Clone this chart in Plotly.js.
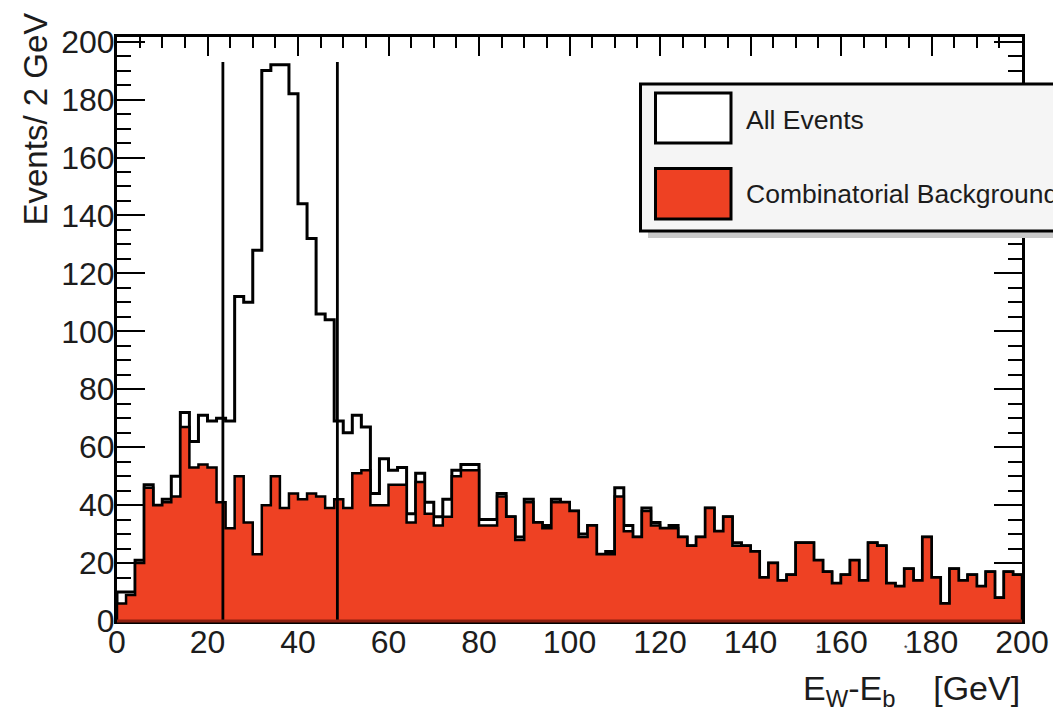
<!DOCTYPE html>
<html>
<head>
<meta charset="utf-8">
<script src="https://cdn.plot.ly/plotly-3.0.1.min.js"></script>
<style>
  html, body { margin: 0; padding: 0; background: #ffffff; }
  #chart { width: 1053px; height: 711px; }
</style>
</head>
<body>
<div id="chart"></div>
<script>
// Binning: 100 bins of 2 GeV covering 0-200 GeV
const binLow = 0;
const binWidth = 2;

// Entries per bin, all selected events
const allEvents = [
  10, 10, 21, 47, 40, 42, 50, 72, 62, 71,
  69, 70, 69, 112, 110, 128, 190, 192, 192, 182,
  144, 132, 106, 104, 69, 65, 71, 67, 44, 56,
  52, 53, 37, 51, 41, 36, 42, 52, 54, 54,
  35, 35, 44, 36, 29, 42, 34, 33, 42, 41,
  38, 30, 33, 23, 24, 46, 33, 29, 39, 34,
  32, 33, 29, 26, 29, 39, 31, 36, 27, 26,
  24, 15, 20, 14, 16, 27, 27, 21, 17, 13,
  16, 21, 14, 27, 26, 13, 12, 18, 14, 29,
  15, 6, 18, 14, 16, 12, 17, 8, 17, 16
];

// Entries per bin, combinatorial background
const combBackground = [
  6, 9, 20, 46, 40, 41, 43, 67, 53, 54,
  53, 41, 32, 50, 34, 23, 40, 50, 39, 44,
  42, 44, 43, 39, 42, 39, 51, 52, 40, 40,
  47, 47, 34, 48, 37, 33, 36, 50, 52, 52,
  33, 33, 43, 36, 28, 41, 34, 32, 41, 41,
  38, 29, 33, 23, 23, 43, 31, 29, 38, 33,
  32, 32, 29, 26, 29, 39, 31, 36, 26, 26,
  24, 15, 20, 14, 16, 27, 27, 21, 17, 13,
  16, 21, 14, 27, 26, 13, 12, 18, 14, 29,
  15, 6, 18, 14, 16, 12, 17, 8, 17, 16
];

// Selection window on E*_W - E*_b [GeV] and the height of its marker lines
const cutEdges = [23.4, 48.7];
const cutLineTop = 193;

const legendLabels = ['All Events', 'Combinatorial Background'];
const xTitle = 'E<sub>W</sub>-E<sub>b</sub>\u00a0\u00a0\u00a0\u00a0[GeV]';
const yTitle = 'Events/ 2 GeV';

const FILL_RED = '#ee4123';
const TEXT = '#1c1c1c';
const FONT = 'Liberation Sans, Arial, Helvetica, sans-serif';

// Turn bin contents into a closed step outline (left edge up, tops, right edge down)
function stepOutline(counts) {
  const xs = [binLow], ys = [0];
  counts.forEach((c, i) => { xs.push(binLow + i * binWidth); ys.push(c); });
  const xEnd = binLow + counts.length * binWidth;
  xs.push(xEnd); ys.push(counts[counts.length - 1]);
  xs.push(xEnd); ys.push(0);
  return { xs, ys };
}

const allStep = stepOutline(allEvents);
const bgStep = stepOutline(combBackground);

const traces = [
  {
    type: 'scatter', mode: 'lines', name: legendLabels[0],
    x: allStep.xs, y: allStep.ys,
    line: { shape: 'hv', color: '#000', width: 3 },
    hoverinfo: 'skip'
  },
  {
    type: 'scatter', mode: 'lines', name: legendLabels[1],
    x: bgStep.xs, y: bgStep.ys,
    line: { shape: 'hv', color: '#000', width: 2.5 },
    fill: 'tozeroy', fillcolor: FILL_RED,
    hoverinfo: 'skip'
  }
];
cutEdges.forEach(edge => {
  traces.push({
    type: 'scatter', mode: 'lines', showlegend: false,
    x: [edge, edge], y: [0, cutLineTop],
    line: { color: '#000', width: 2.8 },
    hoverinfo: 'skip'
  });
});

// Frame geometry in pixels, used to place the hand-drawn legend and titles
const M = { l: 117, r: 31, t: 37, b: 90 };
const W = 1053, H = 711;
const plotW = W - M.l - M.r, plotH = H - M.t - M.b;
const px2x = px => (px - M.l) / plotW;
const px2y = py => (H - M.b - py) / plotH;

const axisCommon = {
  showgrid: false, zeroline: false,
  showline: true, linecolor: '#000', linewidth: 3, mirror: 'ticks',
  ticks: 'inside', tickcolor: '#000', tickwidth: 2,
  layer: 'below traces',
  tickfont: { family: FONT, size: 32, color: TEXT },
  fixedrange: true
};

const layout = {
  width: W, height: H,
  margin: { l: M.l, r: M.r, t: M.t, b: M.b, pad: 0 },
  paper_bgcolor: '#ffffff', plot_bgcolor: '#ffffff',
  showlegend: false,
  xaxis: Object.assign({}, axisCommon, {
    range: [0, 200], tick0: 0, dtick: 20, ticklen: 19,
    ticklabelstandoff: -9,
    minor: { dtick: 5, ticks: 'inside', ticklen: 11, tickwidth: 2, tickcolor: '#000' }
  }),
  yaxis: Object.assign({}, axisCommon, {
    range: [0, 201.6], tick0: 0, dtick: 20, ticklen: 28,
    ticklabelstandoff: -7,
    minor: { dtick: 5, ticks: 'inside', ticklen: 14, tickwidth: 2, tickcolor: '#000' }
  }),
  shapes: [
    // bottom frame edge seen through the filled background histogram
    { type: 'line', xref: 'paper', yref: 'paper', x0: 0, x1: 1, y0: 0, y1: 0,
      line: { color: '#8e2010', width: 3 }, layer: 'above' },
    // legend: drop shadow, box and the two swatches
    { type: 'rect', xref: 'paper', yref: 'paper', layer: 'above',
      x0: px2x(648), x1: px2x(1110), y0: px2y(238), y1: px2y(91),
      fillcolor: '#c9c9c9', line: { width: 0 } },
    { type: 'rect', xref: 'paper', yref: 'paper', layer: 'above',
      x0: px2x(640.5), x1: px2x(1100), y0: px2y(231), y1: px2y(84),
      fillcolor: '#f5f5f5', line: { color: '#000', width: 3 } },
    { type: 'rect', xref: 'paper', yref: 'paper', layer: 'above',
      x0: px2x(655.5), x1: px2x(731), y0: px2y(143), y1: px2y(93),
      fillcolor: '#ffffff', line: { color: '#000', width: 3 } },
    { type: 'rect', xref: 'paper', yref: 'paper', layer: 'above',
      x0: px2x(655.5), x1: px2x(731), y0: px2y(219), y1: px2y(168.5),
      fillcolor: FILL_RED, line: { color: '#000', width: 3 } }
  ],
  annotations: [
    { text: yTitle, textangle: -90, xref: 'paper', yref: 'paper',
      x: px2x(35), y: px2y(11), xanchor: 'center', yanchor: 'top',
      showarrow: false, font: { family: FONT, size: 33, color: TEXT } },
    { text: xTitle, xref: 'paper', yref: 'paper',
      x: px2x(1022), y: px2y(690), xanchor: 'right', yanchor: 'middle',
      showarrow: false, font: { family: FONT, size: 34, color: TEXT } },
    { text: '*', xref: 'paper', yref: 'paper', x: px2x(819), y: px2y(648),
      xanchor: 'center', yanchor: 'middle', showarrow: false,
      font: { family: FONT, size: 9, color: TEXT } },
    { text: '*', xref: 'paper', yref: 'paper', x: px2x(906), y: px2y(648),
      xanchor: 'center', yanchor: 'middle', showarrow: false,
      font: { family: FONT, size: 9, color: TEXT } },
    { text: legendLabels[0], xref: 'paper', yref: 'paper',
      x: px2x(744), y: px2y(120), xanchor: 'left', yanchor: 'middle',
      showarrow: false, font: { family: FONT, size: 26.5, color: TEXT } },
    { text: legendLabels[1], xref: 'paper', yref: 'paper',
      x: px2x(744), y: px2y(194), xanchor: 'left', yanchor: 'middle',
      showarrow: false, font: { family: FONT, size: 26.5, color: TEXT } }
  ]
};

Plotly.newPlot('chart', traces, layout, { staticPlot: true, displayModeBar: false });
</script>
</body>
</html>
